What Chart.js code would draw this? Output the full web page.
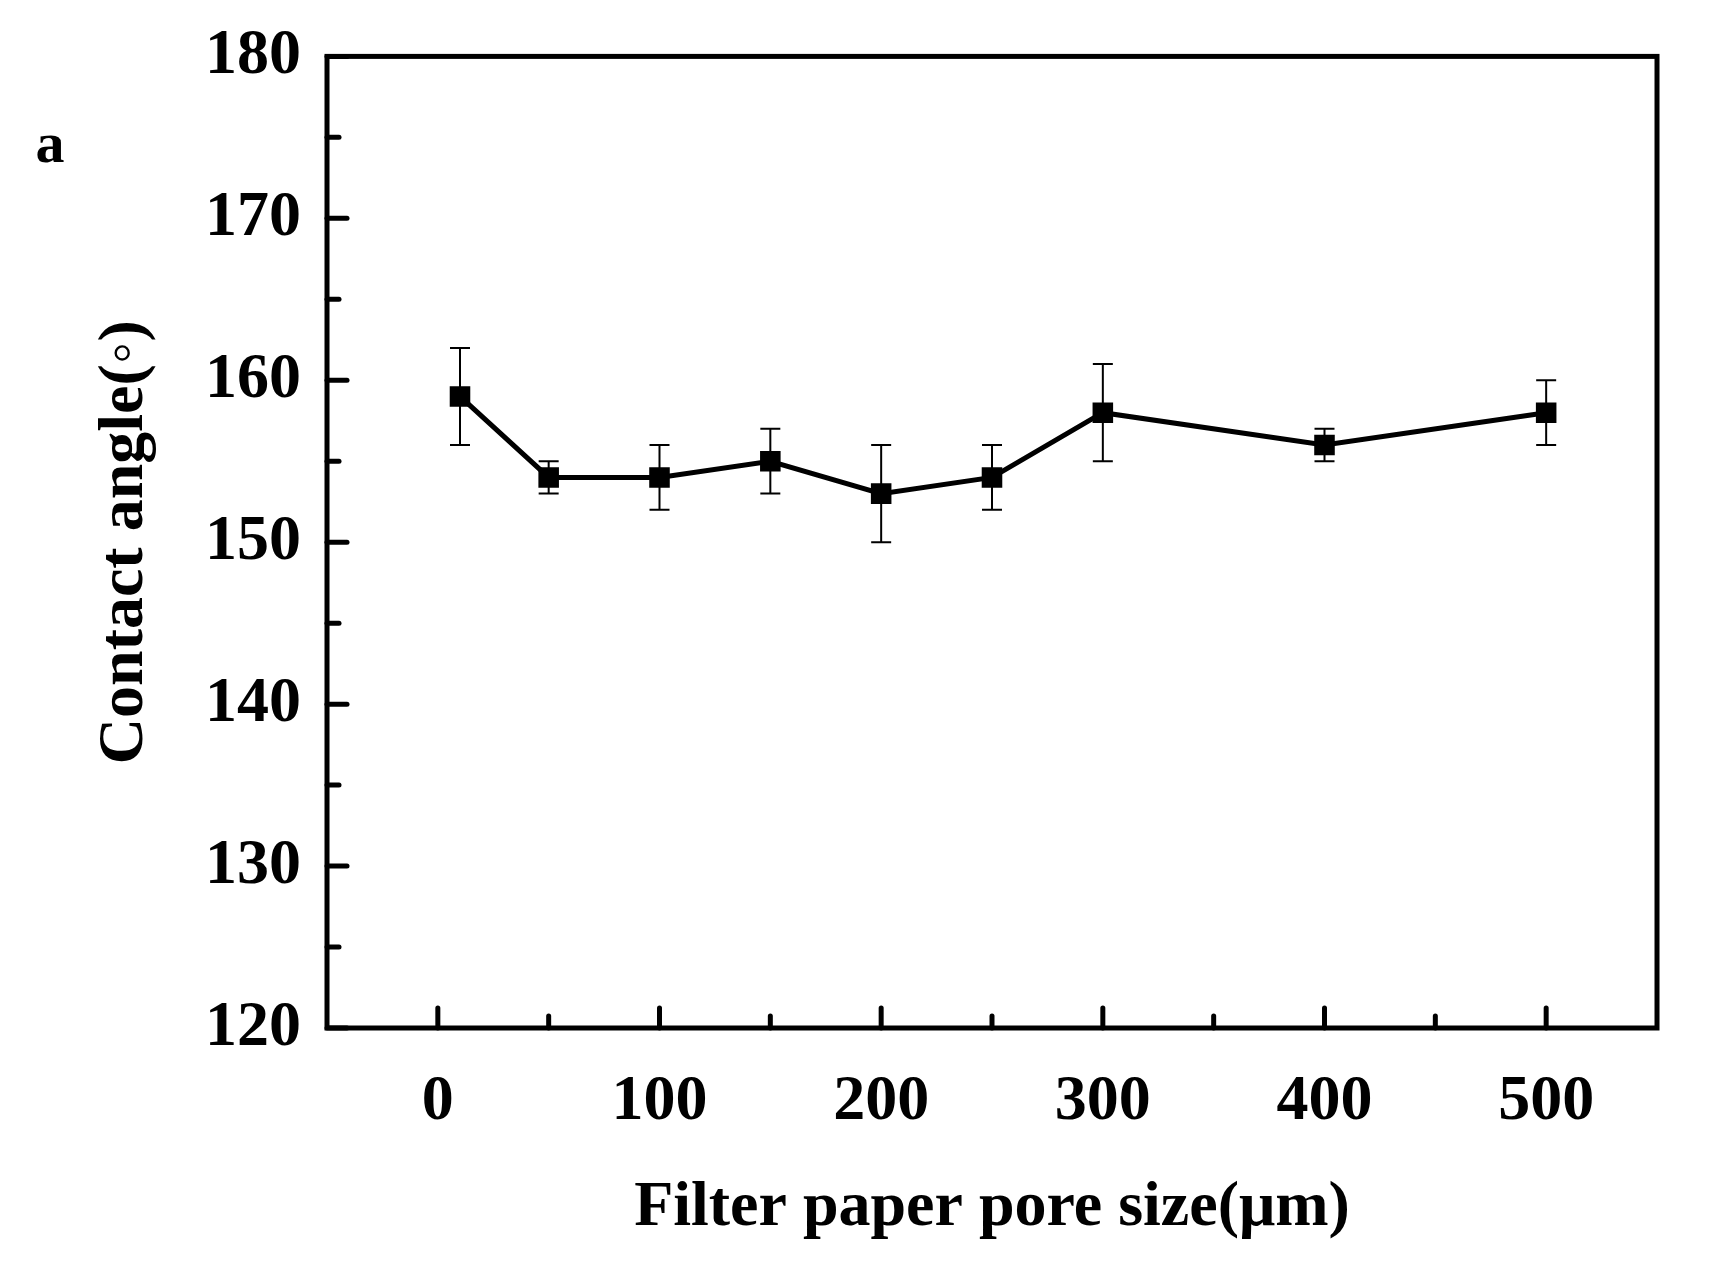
<!DOCTYPE html>
<html><head><style>html,body{margin:0;background:#fff}</style>
<script src="https://cdn.jsdelivr.net/npm/chart.js@4"></script></head>
<body><div style="width:1709px;height:1282px"><canvas id="c"></canvas></div>
<script>
const poreSize=[10,50,100,150,200,250,300,400,500];
const contactAngle=[159,154,154,155,153,154,158,156,158];
const errorBar=[3,1,2,2,3,2,3,1,2];
const xTitle='Filter paper pore size(\u03bcm)';
const yTitle='Contact angle(\u25e6)';
const panelLabel='a';
const F='"Liberation Serif","Times New Roman",serif';
const deco={id:'deco',afterDatasetsDraw(ch){
 const c=ch.ctx,x=ch.scales.x,y=ch.scales.y,a=ch.chartArea;
 c.save();c.strokeStyle='#000';
 c.lineWidth=2;
 poreSize.forEach((v,i)=>{const px=x.getPixelForValue(v),t=y.getPixelForValue(contactAngle[i]+errorBar[i]),b=y.getPixelForValue(contactAngle[i]-errorBar[i]);
  c.beginPath();c.moveTo(px,t);c.lineTo(px,b);c.moveTo(px-10,t);c.lineTo(px+10,t);c.moveTo(px-10,b);c.lineTo(px+10,b);c.stroke();});
 c.lineWidth=5;c.lineCap='round';
 for(let v=0;v<=500;v+=50){const px=x.getPixelForValue(v);c.beginPath();c.moveTo(px,a.bottom);c.lineTo(px,a.bottom-(v%100?12:20));c.stroke();}
 for(let v=120;v<=180;v+=5){const py=y.getPixelForValue(v);c.beginPath();c.moveTo(a.left,py);c.lineTo(a.left+(v%10?12:20),py);c.stroke();}
 c.lineCap='butt';c.strokeRect(a.left,a.top,a.right-a.left,a.bottom-a.top);
 c.fillStyle='#000';c.font='bold 64px '+F;c.textAlign='center';c.textBaseline='middle';
 c.fillText(xTitle,(a.left+a.right)/2,1208);
 c.save();c.translate(125,(a.top+a.bottom)/2);c.rotate(-Math.PI/2);c.fillText(yTitle,0,0);c.restore();
 c.font='bold 58px '+F;c.fillText(panelLabel,50,147);
 c.restore();}};
new Chart(document.getElementById('c'),{type:'scatter',
 data:{datasets:[{data:poreSize.map((v,i)=>({x:v,y:contactAngle[i]})),showLine:true,borderColor:'#000',borderWidth:5,
  pointStyle:'rect',pointRadius:11,pointBackgroundColor:'#000',pointBorderColor:'#000',pointHoverRadius:11}]},
 plugins:[deco],
 options:{responsive:true,maintainAspectRatio:false,animation:false,
  layout:{padding:{top:47,right:52}},
  plugins:{legend:{display:false},tooltip:{enabled:false}},
  scales:{
   x:{min:-50,max:550,grid:{display:false},border:{display:false},
    afterBuildTicks(s){s.ticks=[0,100,200,300,400,500].map(v=>({value:v}));},
    afterFit(s){s.height=254;},
    ticks:{color:'#000',font:{family:F,weight:'bold',size:64},padding:28,maxRotation:0}},
   y:{min:120,max:180,grid:{display:false},border:{display:false},
    afterBuildTicks(s){s.ticks=[120,130,140,150,160,170,180].map(v=>({value:v}));},
    afterFit(s){s.width=327;},
    ticks:{color:'#000',font:{family:F,weight:'bold',size:64},padding:18}}}}});
</script></body></html>
